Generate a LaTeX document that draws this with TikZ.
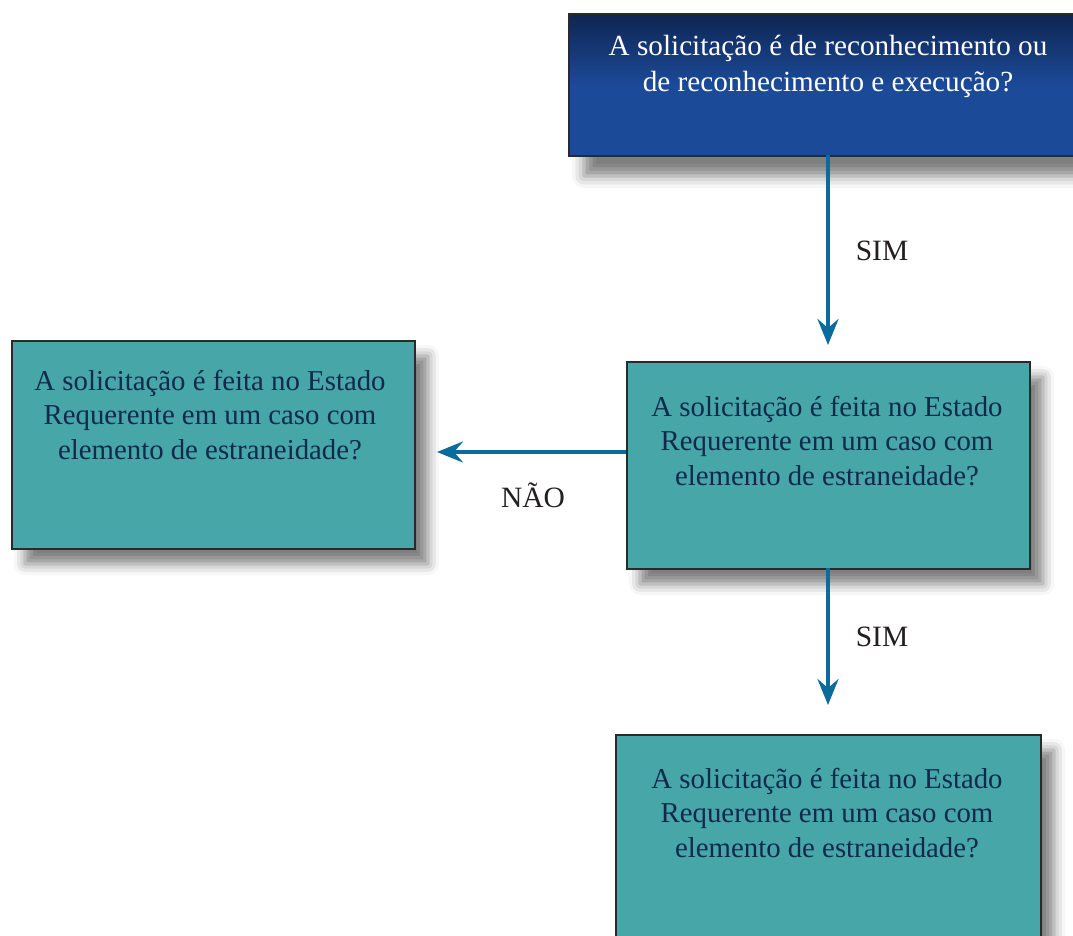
\documentclass[tikz,border=0pt]{standalone}
\usepackage{fontspec}
\setmainfont{Liberation Serif}
\usetikzlibrary{arrows.meta,shadows.blur}
\definecolor{teal1}{HTML}{46A6A8}
\definecolor{navy1}{HTML}{1B4A98}
\definecolor{navytop}{HTML}{0F2552}
\definecolor{boxline}{HTML}{2A2A2A}
\definecolor{arrowc}{HTML}{0A6B9C}
\definecolor{txtdark}{HTML}{102A4C}
\definecolor{lblc}{HTML}{231F20}
\tikzset{
  tbox/.style={draw=boxline, line width=2pt, fill=teal1, rectangle, inner sep=0pt,
    blur shadow={shadow xshift=13pt, shadow yshift=-15pt, shadow blur radius=11pt, shadow opacity=50}},
  topbox/.style={draw=boxline, line width=2pt, rectangle, inner sep=0pt,
    top color=navytop, bottom color=navy1, middle color=navy1,
    blur shadow={shadow xshift=15pt, shadow yshift=-20pt, shadow blur radius=12pt, shadow opacity=50}},
  btxt/.style={align=center, font=\fontsize{28.8}{34.5}\selectfont, text=txtdark, inner sep=0pt},
  wtxt/.style={align=center, font=\fontsize{29.2}{36}\selectfont, text=white, inner sep=0pt},
  lbl/.style={font=\fontsize{29.5}{34}\selectfont, text=lblc, inner sep=0pt},
  conn/.style={draw=arrowc, line width=4pt, -{Stealth[length=26pt,width=21pt,inset=9pt]}}
}
\begin{document}
\begin{tikzpicture}[x=1pt,y=-1pt]
\useasboundingbox (0,0) rectangle (1073,935);
\clip (0,0) rectangle (1073,935);
% boxes
\node[topbox, minimum width=540pt, minimum height=142pt, anchor=north west] (top) at (568,13) {};
\node[tbox, minimum width=403pt, minimum height=207pt, anchor=north west] (mid) at (626,361) {};
\node[tbox, minimum width=403pt, minimum height=208pt, anchor=north west] (left) at (11,340) {};
\node[tbox, minimum width=425pt, minimum height=240pt, anchor=north west] (bot) at (615,734) {};
% texts
\node[wtxt] (toptxt) at (828,66) {A solicitação é de reconhecimento ou\\de reconhecimento e execução?};
\node[btxt] (midtxt) at (827,441) {A solicitação é feita no Estado\\Requerente em um caso com\\elemento de estraneidade?};
\node[btxt] (lefttxt) at (210,415) {A solicitação é feita no Estado\\Requerente em um caso com\\elemento de estraneidade?};
\node[btxt] (bottxt) at (827,813) {A solicitação é feita no Estado\\Requerente em um caso com\\elemento de estraneidade?};
% arrow ends
\coordinate (t1) at (828,345);
\coordinate (t2) at (437,452);
\coordinate (t3) at (828,705);
\coordinate (s1) at (828,155);
\coordinate (s2) at (626,452);
\coordinate (s3) at (828,568);
\draw[conn] (s1) -- (t1);
\draw[conn] (s2) -- (t2);
\draw[conn] (s3) -- (t3);
% labels
\node[lbl] (sim1) at (882,251) {SIM};
\node[lbl] (nao) at (533,495) {NÃO};
\node[lbl] (sim2) at (882,637) {SIM};
\end{tikzpicture}
\end{document}
